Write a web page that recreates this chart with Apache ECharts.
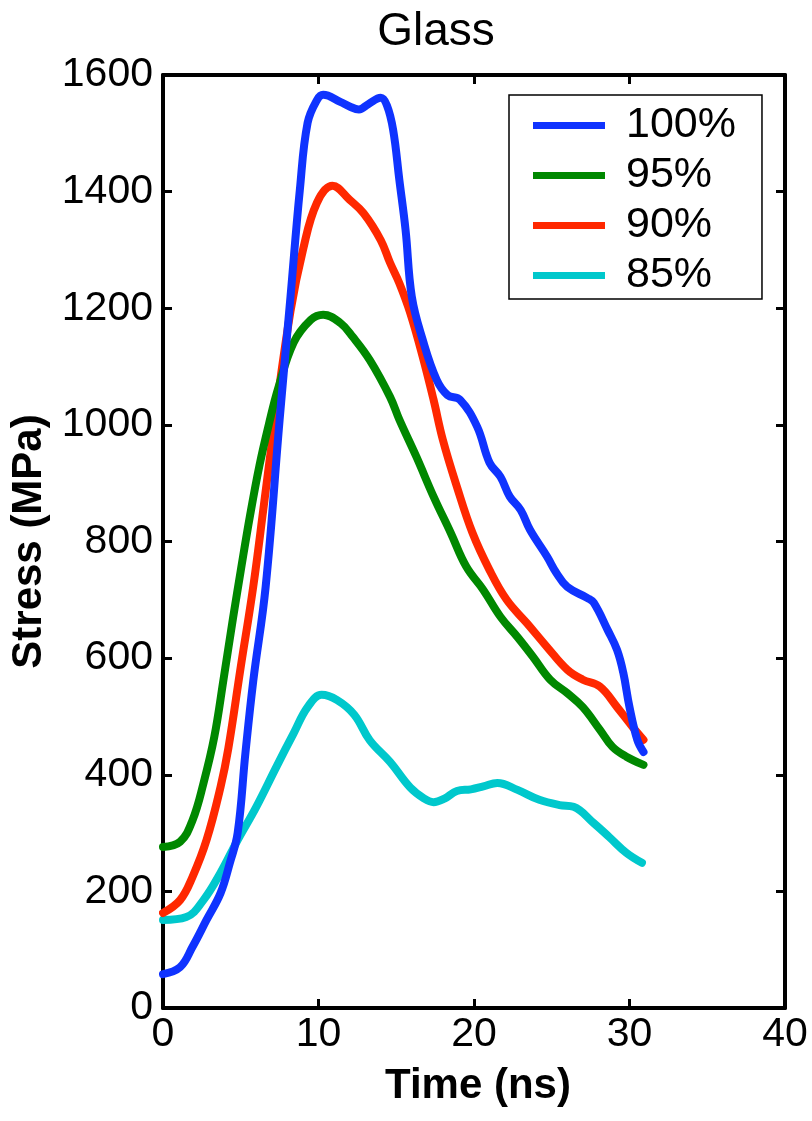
<!DOCTYPE html>
<html>
<head>
<meta charset="utf-8">
<script src="https://cdn.jsdelivr.net/npm/echarts@6/dist/echarts.min.js"></script>
<style>
  html, body { margin: 0; padding: 0; background: #fff; }
  #chart { width: 812px; height: 1121px; }
</style>
</head>
<body>
<div id="chart"></div>
<script>
// Time (ns) and stress (MPa) samples
const t100 = [0, 1.1, 1.9, 2.8, 3.7, 4.3, 4.8, 5.3, 5.8, 6.6, 7.5, 8.2, 8.8, 9.3, 9.9, 10.3, 11.4, 12.0, 12.6, 13.2, 14.0, 14.4, 14.8, 15.2, 15.6, 16.0, 16.7, 17.6, 18.3, 19.1, 20.2, 21.0, 21.7, 22.3, 23.0, 23.6, 24.7, 25.3, 26.0, 27.3, 27.7, 28.6, 29.2, 29.6, 30.0, 30.5, 30.9];
const s100 = [58, 70, 105, 151, 197, 249, 300, 437, 560, 722, 1009, 1220, 1403, 1518, 1557, 1566, 1554, 1546, 1541, 1550, 1561, 1548, 1506, 1420, 1334, 1220, 1146, 1077, 1051, 1043, 997, 935, 911, 877, 854, 820, 774, 746, 722, 703, 695, 648, 614, 575, 516, 460, 439];

const t95 = [0, 1.1, 1.9, 2.6, 3.3, 3.9, 4.5, 5.0, 5.6, 6.2, 6.8, 7.4, 8.4, 9.5, 10.3, 11.4, 12.2, 13.3, 14.6, 15.2, 16.3, 17.4, 18.5, 19.5, 20.6, 21.7, 22.8, 23.8, 24.9, 26.0, 27.0, 28.1, 28.9, 29.8, 30.9];
const s95 = [276, 285, 322, 385, 465, 565, 668, 750, 845, 930, 1000, 1062, 1141, 1180, 1189, 1175, 1151, 1111, 1048, 1009, 945, 877, 815, 757, 717, 671, 636, 602, 563, 540, 516, 477, 448, 431, 417];

const t90 = [0, 1.1, 1.9, 2.8, 3.7, 4.2, 5.0, 5.8, 6.5, 7.2, 8.2, 9.0, 9.9, 10.9, 12.0, 12.9, 14.0, 14.6, 15.2, 15.9, 16.7, 17.4, 18.0, 18.9, 19.9, 21.0, 22.1, 23.4, 24.7, 26.0, 27.0, 28.1, 29.2, 30.2, 30.9];
const s90 = [163, 185, 225, 288, 379, 445, 585, 722, 865, 1009, 1195, 1300, 1381, 1410, 1386, 1363, 1317, 1278, 1243, 1192, 1117, 1043, 974, 894, 815, 751, 700, 660, 619, 580, 563, 551, 516, 482, 460];

const t85 = [0, 1.5, 2.6, 3.7, 4.8, 6.0, 7.3, 8.4, 9.3, 10.2, 11.2, 12.3, 13.3, 14.6, 15.9, 16.8, 17.4, 18.1, 18.9, 19.8, 20.6, 21.5, 22.8, 24.2, 25.5, 26.4, 27.7, 28.7, 29.8, 30.8];
const s85 = [151, 156, 185, 232, 288, 345, 414, 471, 516, 537, 528, 503, 459, 422, 378, 359, 353, 359, 372, 375, 380, 386, 374, 357, 348, 345, 317, 293, 266, 249];

const seriesNames = ['100%', '95%', '90%', '85%'];
const colors = ['#0f33ff', '#008800', '#ff2800', '#00c8cc'];

const FONT = "'Liberation Sans', Arial, Helvetica, sans-serif";

const chart = echarts.init(document.getElementById('chart'));

const pairs = (xs, ys) => xs.map((x, i) => [x, ys[i]]);
const lineData = [pairs(t100, s100), pairs(t95, s95), pairs(t90, s90), pairs(t85, s85)];

// black box with inward ticks on all four sides
const frameAxis = {
    axisLine: { show: true, onZero: false, lineStyle: { color: '#000', width: 4 } },
    axisTick: { show: true, inside: true, length: 9, lineStyle: { color: '#000', width: 3 } },
    splitLine: { show: false }
};

chart.setOption({
    animation: false,
    backgroundColor: '#fff',
    title: {
        text: 'Glass',
        left: 431,
        top: 4,
        textAlign: 'center',
        textStyle: { fontFamily: FONT, fontSize: 46, fontWeight: 'normal', color: '#000' }
    },
    grid: { left: 163, right: 27, top: 75, bottom: 113 },
    legend: {
        data: seriesNames,
        orient: 'vertical',
        left: 509,
        top: 95,
        icon: 'rect',
        itemWidth: 72,
        itemHeight: 7,
        itemGap: 7,
        padding: [9, 26, 2, 24],
        borderColor: '#000',
        borderWidth: 1.5,
        backgroundColor: '#fff',
        textStyle: { fontFamily: FONT, fontSize: 43, lineHeight: 40, color: '#000', padding: [0, 0, 0, 16] }
    },
    xAxis: [
        Object.assign({
            type: 'value', min: 0, max: 40, interval: 10,
            name: 'Time (ns)', nameLocation: 'middle', nameGap: 57,
            nameTextStyle: { fontFamily: FONT, fontSize: 42, fontWeight: 'bold', color: '#000', padding: [0, 0, 0, 8] },
            axisLabel: { fontFamily: FONT, fontSize: 41, color: '#000', margin: 6 }
        }, frameAxis),
        Object.assign({
            type: 'value', min: 0, max: 40, interval: 10, position: 'top',
            axisLabel: { show: false }
        }, frameAxis)
    ],
    yAxis: [
        Object.assign({
            type: 'value', min: 0, max: 1600, interval: 200,
            name: 'Stress (MPa)', nameLocation: 'middle', nameGap: 98,
            nameTextStyle: { fontFamily: FONT, fontSize: 42, fontWeight: 'bold', color: '#000' },
            axisLabel: { fontFamily: FONT, fontSize: 41, color: '#000', margin: 10, formatter: v => String(v) }
        }, frameAxis),
        Object.assign({
            type: 'value', min: 0, max: 1600, interval: 200, position: 'right',
            axisLabel: { show: false }
        }, frameAxis)
    ],
    series: seriesNames.map((name, i) => ({
        name: name,
        type: 'line',
        xAxisIndex: 0,
        yAxisIndex: 0,
        data: lineData[i],
        smooth: 0.4,
        showSymbol: false,
        color: colors[i],
        lineStyle: { color: colors[i], width: 8, cap: 'round', join: 'round' },
        z: 10 - i
    }))
});
</script>
</body>
</html>
